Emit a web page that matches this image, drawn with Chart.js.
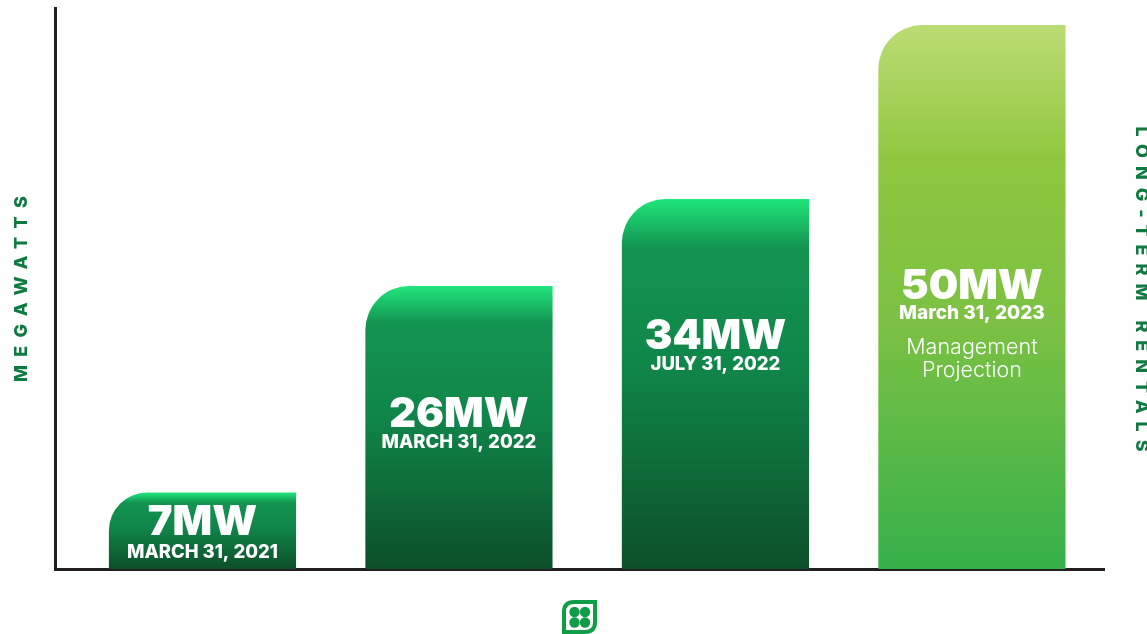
<!DOCTYPE html>
<html>
<head>
<meta charset="utf-8">
<style>
html,body{margin:0;padding:0;background:#fff;overflow:hidden}
#wrap{position:relative;width:1147px;height:634px}
</style>
<script src="https://cdn.jsdelivr.net/npm/chart.js@4"></script>
</head>
<body>
<div id="wrap"><canvas id="c" width="1147" height="634"></canvas></div>
<script>
const categories = ["March 31, 2021", "March 31, 2022", "July 31, 2022", "March 31, 2023"];
const values = [7, 26, 34, 50];
const valueLabels = ["7MW", "26MW", "34MW", "50MW"];
const dateLabels = ["MARCH 31, 2021", "MARCH 31, 2022", "JULY 31, 2022", "March 31, 2023"];
const noteLines = [[], [], [], ["Management", "Projection"]];
const leftTitle = "MEGAWATTS";
const rightTitle = "LONG-TERM RENTALS";

const darkStops = [[0, "#20e57c"], [0.13, "#139450"], [0.45, "#10864a"], [1, "#0c4f29"]];
const lightStops = [[0, "#bcdc74"], [0.25, "#8fc63f"], [0.55, "#7bc143"], [1, "#35b04a"]];
const FONT = "Inter, 'Open Sans', sans-serif";
const valueY = [523, 415, 337, 287];
const dateY = [552, 442, 364, 313];
const noteY = [348, 371];
const GREEN = "#0f7a41";

function barFill(ctx) {
  const chart = ctx.chart, i = ctx.dataIndex;
  const y0 = chart.scales.y.getPixelForValue(values[i]);
  const y1 = chart.scales.y.getPixelForValue(0);
  if (!isFinite(y0) || !isFinite(y1)) return "#118a48";
  const g = chart.ctx.createLinearGradient(0, y0, 0, y1);
  (i === 3 ? lightStops : darkStops).forEach(s => g.addColorStop(s[0], s[1]));
  return g;
}

const overlay = {
  id: "overlay",
  afterDatasetsDraw(chart) {
    const c = chart.ctx, sx = chart.scales.x;
    c.save();
    c.fillStyle = "#fff";
    c.textAlign = "center";
    c.textBaseline = "middle";
    values.forEach((v, i) => {
      const x = sx.getPixelForValue(i);
      c.font = "900 41.5px " + FONT;
      c.fillText(valueLabels[i], x, valueY[i]);
      c.font = i === 3 ? "800 19px " + FONT : "800 18.5px " + FONT;
      c.fillText(dateLabels[i], x, dateY[i]);
      c.font = "300 21.5px " + FONT;
      noteLines[i].forEach((t, k) => c.fillText(t, x, noteY[k]));
    });
    c.fillStyle = GREEN;
    c.font = "800 18px " + FONT;
    c.letterSpacing = "8.3px";
    c.save(); c.translate(22, 285); c.rotate(-Math.PI / 2); c.fillText(leftTitle, 0, 0); c.restore();
    c.font = "800 18px " + FONT;
    c.letterSpacing = "8.0px";
    c.save(); c.translate(1141, 293); c.rotate(Math.PI / 2); c.fillText(rightTitle, 0, 0); c.restore();
    c.letterSpacing = "0px";
    // brand mark
    const lg = "#0f9d47";
    c.strokeStyle = lg; c.lineWidth = 4;
    c.beginPath();
    c.moveTo(574, 602);
    c.lineTo(595, 602);
    c.lineTo(595, 622);
    c.quadraticCurveTo(595, 632, 585, 632);
    c.lineTo(564, 632);
    c.lineTo(564, 612);
    c.quadraticCurveTo(564, 602, 574, 602);
    c.closePath();
    c.stroke();
    c.fillStyle = lg;
    [[574.5, 612], [585, 612], [574.5, 622.5], [585, 622.5]].forEach(p => {
      c.beginPath(); c.arc(p[0], p[1], 5.2, 0, Math.PI * 2); c.fill();
    });
    c.restore();
  }
};

new Chart(document.getElementById("c"), {
  type: "bar",
  plugins: [overlay],
  data: {
    labels: categories,
    datasets: [{
      label: "Megawatts",
      data: values.map((v, i) => ({ x: i, y: v })),
      backgroundColor: barFill,
      barThickness: 186.5,
      borderWidth: 0,
      borderSkipped: false,
      borderRadius: { topLeft: 44, topRight: 0, bottomLeft: 0, bottomRight: 0 }
    }]
  },
  options: {
    responsive: false,
    animation: false,
    events: [],
    layout: { padding: { left: 55, right: 43, top: 8, bottom: 65 } },
    plugins: { legend: { display: false }, tooltip: { enabled: false }, title: { display: false } },
    scales: {
      x: {
        type: "linear", min: -0.575, max: 3.515, offset: false,
        grid: { display: false, drawTicks: false, offset: false },
        ticks: { display: false },
        border: { display: true, color: "#231f20", width: 3 }
      },
      y: {
        min: 0, max: 51.6,
        grid: { display: false, drawTicks: false },
        ticks: { display: false },
        border: { display: true, color: "#231f20", width: 3 }
      }
    }
  }
});
</script>
</body>
</html>
